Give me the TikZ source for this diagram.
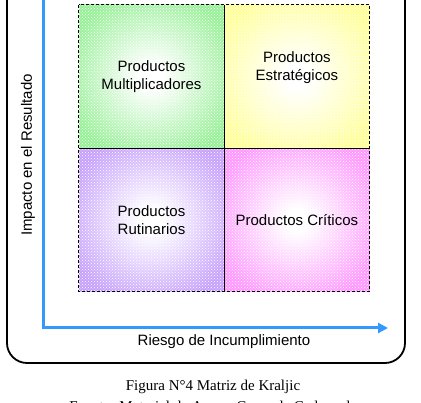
\documentclass[tikz,border=0pt]{standalone}
\usepackage{fontspec}
\setmainfont{Liberation Serif}
\setsansfont{Liberation Sans}
\usepackage{xcolor}
\usepackage{tikz}
\usetikzlibrary{arrows.meta,positioning,patterns}

\definecolor{cellgreen}{RGB}{150,240,150}
\definecolor{cellyellow}{RGB}{255,255,150}
\definecolor{cellpurple}{RGB}{198,160,252}
\definecolor{cellpink}{RGB}{255,150,255}
\definecolor{axisblue}{RGB}{51,153,255}

\pgfdeclareradialshading{greenshade}{\pgfpointorigin}{color(0bp)=(white); color(4bp)=(white); color(30bp)=(cellgreen); color(50bp)=(cellgreen)}
\pgfdeclareradialshading{yellowshade}{\pgfpointorigin}{color(0bp)=(white); color(4bp)=(white); color(30bp)=(cellyellow); color(50bp)=(cellyellow)}
\pgfdeclareradialshading{purpleshade}{\pgfpointorigin}{color(0bp)=(white); color(4bp)=(white); color(30bp)=(cellpurple); color(50bp)=(cellpurple)}
\pgfdeclareradialshading{pinkshade}{\pgfpointorigin}{color(0bp)=(white); color(4bp)=(white); color(30bp)=(cellpink); color(50bp)=(cellpink)}

\begin{document}
\begin{tikzpicture}[x=1pt,y=-1pt]
\tikzstyle{every node}+=[inner sep=0pt]
\tikzstyle{cell}=[minimum width=145pt, minimum height=143pt, postaction={pattern=crosshatch dots, pattern color=white}]
\tikzstyle{celltext}=[font=\sffamily\fontsize{15}{18}\selectfont, align=center]
\tikzstyle{axis}=[draw=axisblue, line width=3pt]
\tikzstyle{axislabel}=[font=\sffamily\fontsize{15}{18}\selectfont]
\tikzstyle{caption}=[font=\fontsize{15}{17}\selectfont]
\useasboundingbox (0,0) rectangle (421,403);
\draw [black, line width=1.8pt, rounded corners=20pt] (7,-40) rectangle (405,363);
\node [cell, shading=greenshade] (mult) at (151.5,76.5) {};
\node [cell, shading=yellowshade, right=0pt of mult] (estr) {};
\node [cell, shading=purpleshade, below=0pt of mult] (rutin) {};
\node [cell, shading=pinkshade, right=0pt of rutin] (crit) {};
\draw [black, line width=0.8pt] (mult.north east) -- (rutin.south east);
\draw [black, line width=0.8pt] (mult.south west) -- (estr.south east);
\draw [black, line width=0.8pt, densely dashed] (mult.north west) rectangle (crit.south east);
\node [celltext] (multtext) at (mult.center) {Productos\\Multiplicadores};
\node [celltext] (estrtext) at ([yshift=9pt]estr.center) {Productos\\Estratégicos};
\node [celltext] (rutintext) at (rutin.center) {Productos\\Rutinarios};
\node [celltext] (crittext) at (crit.center) {Productos Críticos};
\coordinate (axtop) at (43,-10);
\coordinate (origin) at (43,328);
\coordinate (axend) at (388,328);
\draw [axis, -{Triangle[length=10pt,width=10pt]}] (axtop) -- (origin) -- (axend);
\node [axislabel, rotate=90] (ylab) at (28,155) {Impacto en el Resultado};
\node [axislabel] (xlab) at (224,342) {Riesgo de Incumplimiento};
\node [caption] (figcap) at (213,387) {Figura N°4 Matriz de Kraljic};
\node [caption, below=7pt of figcap] (source) {Fuente: Material de Apoyo Curso de Cadena de};
\end{tikzpicture}
\end{document}
